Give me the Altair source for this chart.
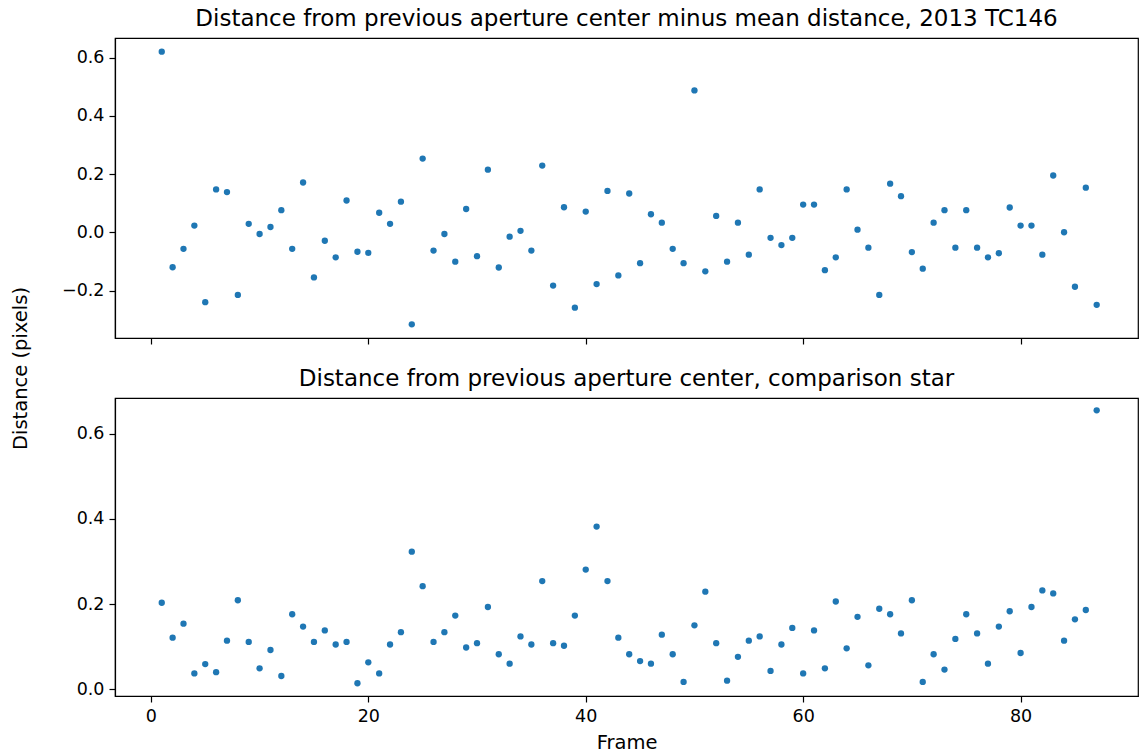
import altair as alt
import pandas as pd

# Frame numbers of the sequence
frames = list(range(1, 88))

# Target: distance from previous aperture center minus mean distance (pixels)
target_offset = [
    0.620, -0.120, -0.057, 0.023, -0.240, 0.147, 0.138, -0.215, 0.029, -0.006,
    0.018, 0.076, -0.057, 0.171, -0.155, -0.029, -0.086, 0.109, -0.067, -0.071,
    0.067, 0.029, 0.105, -0.316, 0.253, -0.063, -0.006, -0.101, 0.080, -0.082,
    0.215, -0.121, -0.015, 0.005, -0.063, 0.229, -0.183, 0.086, -0.259, 0.071,
    -0.178, 0.142, -0.148, 0.133, -0.106, 0.062, 0.033, -0.057, -0.106, 0.487,
    -0.134, 0.056, -0.101, 0.033, -0.077, 0.147, -0.019, -0.044, -0.019, 0.095,
    0.095, -0.130, -0.086, 0.147, 0.009, -0.053, -0.215, 0.167, 0.124, -0.068,
    -0.125, 0.033, 0.076, -0.053, 0.076, -0.053, -0.086, -0.072, 0.085, 0.023,
    0.023, -0.077, 0.195, 0.000, -0.187, 0.153, -0.249,
]

# Comparison star: distance from previous aperture center (pixels)
comparison_dist = [
    0.203, 0.121, 0.154, 0.037, 0.059, 0.040, 0.114, 0.209, 0.111, 0.049,
    0.092, 0.031, 0.176, 0.147, 0.111, 0.138, 0.105, 0.111, 0.014, 0.063,
    0.037, 0.105, 0.134, 0.323, 0.242, 0.111, 0.134, 0.173, 0.098, 0.108,
    0.193, 0.082, 0.060, 0.124, 0.105, 0.254, 0.108, 0.102, 0.173, 0.281,
    0.382, 0.254, 0.121, 0.082, 0.066, 0.060, 0.128, 0.082, 0.017, 0.150,
    0.229, 0.108, 0.020, 0.076, 0.114, 0.124, 0.043, 0.105, 0.144, 0.037,
    0.138, 0.049, 0.206, 0.096, 0.170, 0.056, 0.189, 0.176, 0.131, 0.209,
    0.017, 0.082, 0.046, 0.118, 0.176, 0.131, 0.060, 0.147, 0.183, 0.085,
    0.193, 0.232, 0.225, 0.114, 0.164, 0.186, 0.655,
]

x_ticks = [0, 20, 40, 60, 80]
top_y_ticks = [-0.2, 0.0, 0.2, 0.4, 0.6]
bottom_y_ticks = [0.0, 0.2, 0.4, 0.6]

df = pd.DataFrame({"frame": frames, "target": target_offset, "comp": comparison_dist})

FONT = "DejaVu Sans"
BLUE = "#1f77b4"
X_DOMAIN = [-3.3, 90.8]
W = 1023

points = alt.Chart(df).mark_circle(size=40, color=BLUE, opacity=1)

top = points.encode(
    x=alt.X(
        "frame:Q",
        scale=alt.Scale(domain=X_DOMAIN, nice=False, zero=False),
        axis=alt.Axis(values=x_ticks, labels=False, title=None),
    ),
    y=alt.Y(
        "target:Q",
        scale=alt.Scale(domain=[-0.363, 0.667], nice=False, zero=False),
        axis=alt.Axis(
            values=top_y_ticks,
            format=".1f",
            title="Distance (pixels)",
            titleX=-95,
            titleY=330,
            titleAlign="center",
            titleBaseline="middle",
        ),
    ),
).properties(
    width=W,
    height=300,
    title=alt.TitleParams(
        "Distance from previous aperture center minus mean distance, 2013 TC146"
    ),
)

bottom = points.encode(
    x=alt.X(
        "frame:Q",
        scale=alt.Scale(domain=X_DOMAIN, nice=False, zero=False),
        axis=alt.Axis(values=x_ticks, format="d", title="Frame", titlePadding=9),
    ),
    y=alt.Y(
        "comp:Q",
        scale=alt.Scale(domain=[-0.016, 0.684], nice=False, zero=False),
        axis=alt.Axis(values=bottom_y_ticks, format=".1f", title=None),
    ),
).properties(
    width=W,
    height=298,
    title=alt.TitleParams("Distance from previous aperture center, comparison star"),
)

chart = (
    alt.vconcat(top, bottom, spacing=60, bounds="flush")
    .properties(
        padding={"left": 9, "top": 7, "right": 0, "bottom": 2},
        background="white",
    )
    .configure_view(stroke="black", strokeWidth=1.2)
    .configure_axis(
        grid=False,
        domainColor="black",
        domainWidth=1.2,
        tickColor="black",
        tickWidth=1.2,
        tickSize=6,
        labelPadding=5,
        labelColor="black",
        titleColor="black",
        labelFont=FONT,
        titleFont=FONT,
        labelFontSize=17.5,
        titleFontSize=19.5,
        titleFontWeight="normal",
    )
    .configure_title(
        font=FONT, fontSize=23, fontWeight="normal", color="black", offset=7
    )
)

chart.save("out.html", embed_options={"renderer": "svg", "actions": False})
